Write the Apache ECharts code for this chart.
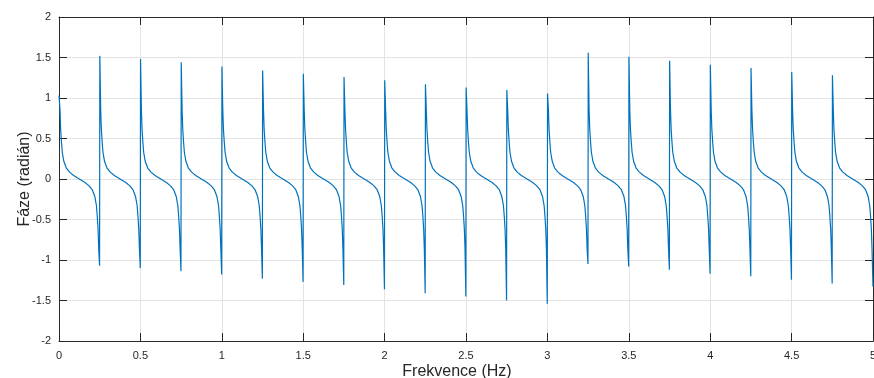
<!DOCTYPE html>
<html>
<head>
<meta charset="utf-8">
<script src="https://cdn.jsdelivr.net/npm/echarts@6/dist/echarts.min.js"></script>
<style>
  html, body { margin: 0; padding: 0; background: #ffffff; }
  #chart { width: 874px; height: 378px; }
</style>
</head>
<body>
<div id="chart"></div>
<script>
// Phase response: a jump at every 0.25 Hz, smooth arctangent-like fall between jumps.
const spikeFreq = [0.25, 0.5, 0.75, 1.0, 1.25, 1.5, 1.75, 2.0, 2.25, 2.5,
                   2.75, 3.0, 3.25, 3.5, 3.75, 4.0, 4.25, 4.5, 4.75];
// first sample right after each jump
const peakPhase = [1.52, 1.48, 1.44, 1.39, 1.34, 1.30, 1.26, 1.22, 1.17, 1.13,
                   1.10, 1.055, 1.56, 1.51, 1.46, 1.41, 1.37, 1.32, 1.28];
// last sample right before each jump (the final one sits at 5 Hz)
const troughPhase = [-1.07, -1.10, -1.14, -1.18, -1.23, -1.27, -1.31, -1.36, -1.41, -1.45,
                     -1.50, -1.54, -1.05, -1.08, -1.12, -1.17, -1.20, -1.245, -1.29, -1.33];
const startPhase = 1.03;
// shape of the curve inside one 0.25 Hz period (offset from the period start, Hz)
const bodyOffset = [0.006, 0.01, 0.015, 0.02, 0.03, 0.045, 0.065, 0.09, 0.11, 0.125,
                    0.14, 0.16, 0.185, 0.205, 0.22, 0.23, 0.235, 0.24, 0.244];
const bodyPhase = [0.86, 0.62, 0.46, 0.33, 0.215, 0.135, 0.085, 0.044, 0.018, 0,
                   -0.018, -0.044, -0.085, -0.135, -0.215, -0.33, -0.46, -0.62, -0.86];
const period = 0.25;
const xTicks = { min: 0, max: 5, step: 0.5 };
const yTicks = { min: -2, max: 2, step: 0.5 };

// assemble the polyline
const points = [[0, startPhase]];
for (let k = 0; k < troughPhase.length; k++) {
  const left = k * period;
  if (k > 0) points.push([spikeFreq[k - 1] + 0.0008, peakPhase[k - 1]]);
  for (let i = 0; i < bodyOffset.length; i++) points.push([left + bodyOffset[i], bodyPhase[i]]);
  const right = k < spikeFreq.length ? spikeFreq[k] - 0.0008 : xTicks.max;
  points.push([right, troughPhase[k]]);
}

const font = '"Liberation Sans", Arial, Helvetica, sans-serif';
const ink = '#262626';
const gridRect = { left: 59, right: 1, top: 17, bottom: 37, containLabel: false, outerBoundsMode: 'none' };
const boxLine = { show: true, onZero: false, lineStyle: { color: '#2b2b2b', width: 1 } };
const inTick = { show: true, inside: true, length: 8, lineStyle: { color: ink, width: 1 } };
const noLine = { show: false };
const gridLine = { show: true, showMinLine: false, showMaxLine: false,
                   lineStyle: { color: '#e3e3e3', width: 1 } };

const chart = echarts.init(document.getElementById('chart'), null, { renderer: 'canvas' });
chart.setOption({
  animation: false,
  backgroundColor: '#ffffff',
  // grid 0 carries only the light grid lines, grid 1 the box, ticks, labels and the curve
  grid: [gridRect, gridRect],
  xAxis: [{
    gridIndex: 0, type: 'value', min: xTicks.min, max: xTicks.max, interval: xTicks.step,
    z: 0, axisLine: noLine, axisTick: noLine, axisLabel: noLine, splitLine: gridLine
  }, {
    gridIndex: 1, type: 'value', min: xTicks.min, max: xTicks.max, interval: xTicks.step,
    position: 'bottom', z: 2,
    name: 'Frekvence (Hz)', nameLocation: 'middle', nameGap: 23, nameMoveOverlap: false,
    nameTextStyle: { fontFamily: font, fontSize: 16, color: ink, padding: [0, 18, 0, 0] },
    axisLine: boxLine, axisTick: inTick, splitLine: noLine,
    axisLabel: { fontFamily: font, fontSize: 11, color: ink, margin: 9 }
  }, {
    gridIndex: 1, type: 'value', min: xTicks.min, max: xTicks.max, interval: xTicks.step,
    position: 'top', z: 2,
    axisLine: boxLine, axisTick: inTick, splitLine: noLine, axisLabel: noLine
  }],
  yAxis: [{
    gridIndex: 0, type: 'value', min: yTicks.min, max: yTicks.max, interval: yTicks.step,
    z: 0, axisLine: noLine, axisTick: noLine, axisLabel: noLine, splitLine: gridLine
  }, {
    gridIndex: 1, type: 'value', min: yTicks.min, max: yTicks.max, interval: yTicks.step,
    position: 'left', z: 2,
    name: 'Fáze (radián)', nameLocation: 'middle', nameGap: 26, nameMoveOverlap: false,
    nameTextStyle: { fontFamily: font, fontSize: 16, color: ink },
    axisLine: boxLine, axisTick: inTick, splitLine: noLine,
    axisLabel: { fontFamily: font, fontSize: 11, color: ink, margin: 8 }
  }, {
    gridIndex: 1, type: 'value', min: yTicks.min, max: yTicks.max, interval: yTicks.step,
    position: 'right', z: 2,
    axisLine: boxLine, axisTick: inTick, splitLine: noLine, axisLabel: noLine
  }],
  series: [{
    type: 'line',
    data: points,
    xAxisIndex: 1, yAxisIndex: 1,
    showSymbol: false,
    lineStyle: { color: '#0072BD', width: 1.2 },
    z: 3,
    clip: true
  }]
});
</script>
</body>
</html>
